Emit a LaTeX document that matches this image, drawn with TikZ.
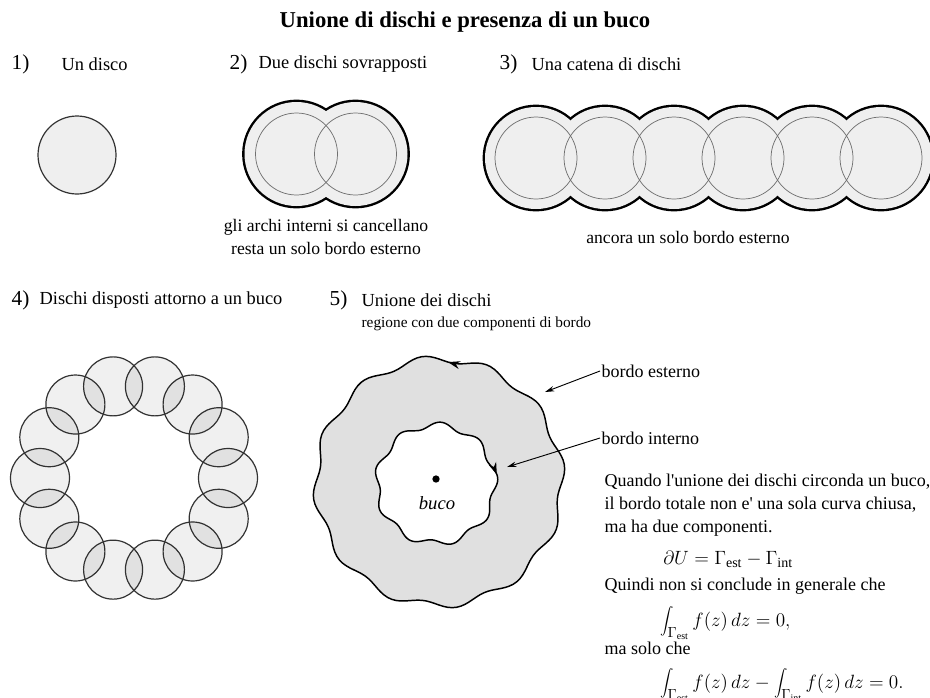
\documentclass[tikz,border=0pt]{standalone}
\usepackage{fontspec}
\setmainfont{Liberation Serif}
\usetikzlibrary{arrows.meta, decorations.markings}
\definecolor{discgray}{HTML}{EFEFEF}
\definecolor{holegray}{HTML}{E0E0E0}
\definecolor{rimgray}{HTML}{333333}
\definecolor{thingray}{HTML}{707070}

\tikzset{
  numlabel/.style={anchor=west, inner sep=1pt, font=\fontsize{16}{18}\selectfont},
  headlabel/.style={anchor=west, inner sep=1pt, font=\fontsize{13.8}{16}\selectfont},
  sublabel/.style={anchor=west, inner sep=1pt, font=\fontsize{11.5}{14}\selectfont},
  captiontext/.style={inner sep=1pt, font=\fontsize{13.2}{16}\selectfont},
  bodytext/.style={anchor=west, inner sep=1pt, font=\fontsize{13.5}{16}\selectfont},
  mathtext/.style={anchor=west, inner sep=0pt, font=\fontsize{15}{17}\selectfont},
  disc/.style={fill=discgray, draw=rimgray, line width=0.9pt},
  ringdisc/.style={fill=black, fill opacity=0.06, draw=rimgray, line width=0.9pt},
  rim/.style={draw=black, line width=3.6pt},
  innerarc/.style={draw=thingray, line width=0.55pt},
  boundary/.style={draw=black, line width=1.1pt},
  pointer/.style={-{Stealth[length=7pt, width=4pt]}, line width=0.7pt}
}

\begin{document}
\begin{tikzpicture}[x=0.75pt, y=-0.75pt]
  \useasboundingbox (0,0) rectangle (930,697);
  \fill[white] (0,0) rectangle (930,697);

  % titolo
  \node[font=\bfseries\fontsize{17}{20}\selectfont] (title) at (465,22)
    {Unione di dischi e presenza di un buco};

  % 1) un disco
  \node[numlabel] (n1) at (10,64) {1)};
  \node[headlabel] (h1) at (60,64) {Un disco};
  \filldraw[disc] (77,155) circle (39);

  % 2) due dischi
  \node[numlabel] (n2) at (228,64) {2)};
  \node[headlabel] (h2) at (257,64) {Due dischi sovrapposti};
  \foreach \cx in {296.5,355.5}
    \draw[rim] (\cx,154) circle (52);
  \foreach \cx in {296.5,355.5}
    \fill[discgray] (\cx,154) circle (52);
  \foreach \cx in {296.5,355.5}
    \draw[innerarc] (\cx,154) circle (41);
  \node[captiontext] (c2a) at (326,227) {gli archi interni si cancellano};
  \node[captiontext] (c2b) at (326,248) {resta un solo bordo esterno};

  % 3) catena
  \node[numlabel] (n3) at (498,64) {3)};
  \node[headlabel] (h3) at (530,64) {Una catena di dischi};
  \foreach \k in {0,...,5}
    \draw[rim] ({536+69*\k},158) circle (51);
  \foreach \k in {0,...,5}
    \fill[discgray] ({536+69*\k},158) circle (51);
  \foreach \k in {0,...,5}
    \draw[innerarc] ({536+69*\k},158) circle (41);
  \node[captiontext] (c3) at (688,237) {ancora un solo bordo esterno};

  % 4) anello di dischi
  \node[numlabel] (n4) at (10,300) {4)};
  \node[headlabel] (h4) at (38,300) {Dischi disposti attorno a un buco};
  \foreach \k in {0,...,13}
    \filldraw[ringdisc] ({134+94*cos(\k*360/14)},{478-94*sin(\k*360/14)}) circle (29.5);

  % 5) unione con buco
  \node[numlabel] (n5) at (328,300) {5)};
  \node[headlabel] (h5) at (360,300) {Unione dei dischi};
  \node[sublabel] (h5b) at (360,324) {regione con due componenti di bordo};
  \path[fill=holegray, even odd rule]
    plot[domain=0:360, samples=181, variable=\t]
      ({439+(123+3.5*sin(12*\t))*cos(\t)}, {482-(123+3.5*sin(12*\t))*sin(\t)}) -- cycle
    plot[domain=0:360, samples=181, variable=\t]
      ({436+(59+3*sin(9*\t+40))*cos(\t)}, {484-(59+3*sin(9*\t+40))*sin(\t)}) -- cycle;
  \draw[boundary, postaction={decorate}, decoration={markings,
      mark=at position 0.238 with {\arrow{Stealth[length=9pt, width=6pt]}}}]
    plot[domain=0:360, samples=181, variable=\t]
      ({439+(123+3.5*sin(12*\t))*cos(\t)}, {482-(123+3.5*sin(12*\t))*sin(\t)}) -- cycle;
  \draw[boundary, postaction={decorate}, decoration={markings,
      mark=at position 0.975 with {\arrow{Stealth[length=9pt, width=6pt]}}}]
    plot[domain=360:0, samples=181, variable=\t]
      ({436+(59+3*sin(9*\t+40))*cos(\t)}, {484-(59+3*sin(9*\t+40))*sin(\t)}) -- cycle;
  \node[circle, fill=black, inner sep=0pt, minimum size=5.5pt] (holedot) at (436,479) {};
  \node[font=\itshape\fontsize{14}{16}\selectfont] (holename) at (437,503) {buco};

  \node[bodytext] (estlabel) at (600,371) {bordo esterno};
  \node[bodytext] (intlabel) at (600,438) {bordo interno};
  \coordinate (esttip) at (545,392);
  \coordinate (inttip) at (507,467);
  \draw[pointer] (estlabel.west) -- (esttip);
  \draw[pointer] (intlabel.west) -- (inttip);

  % testo di commento
  \node[bodytext] (t1) at (603,482) {Quando l\textquotesingle unione dei dischi circonda un buco,};
  \node[bodytext] (t2) at (603,505) {il bordo totale non e\textquotesingle\ una sola curva chiusa,};
  \node[bodytext] (t3) at (603,528) {ma ha due componenti.};
  \node[mathtext] (eq1) at (663,559) {$\partial U = \Gamma_{\mathrm{est}} - \Gamma_{\mathrm{int}}$};
  \node[bodytext] (t4) at (603,586) {Quindi non si conclude in generale che};
  \node[mathtext] (eq2) at (660,623)
    {$\displaystyle\int_{\Gamma_{\mathrm{est}}} f(z)\,dz = 0,$};
  \node[bodytext] (t5) at (603,648) {ma solo che};
  \node[mathtext] (eq3) at (660,685)
    {$\displaystyle\int_{\Gamma_{\mathrm{est}}} f(z)\,dz - \int_{\Gamma_{\mathrm{int}}} f(z)\,dz = 0.$};
\end{tikzpicture}
\end{document}
